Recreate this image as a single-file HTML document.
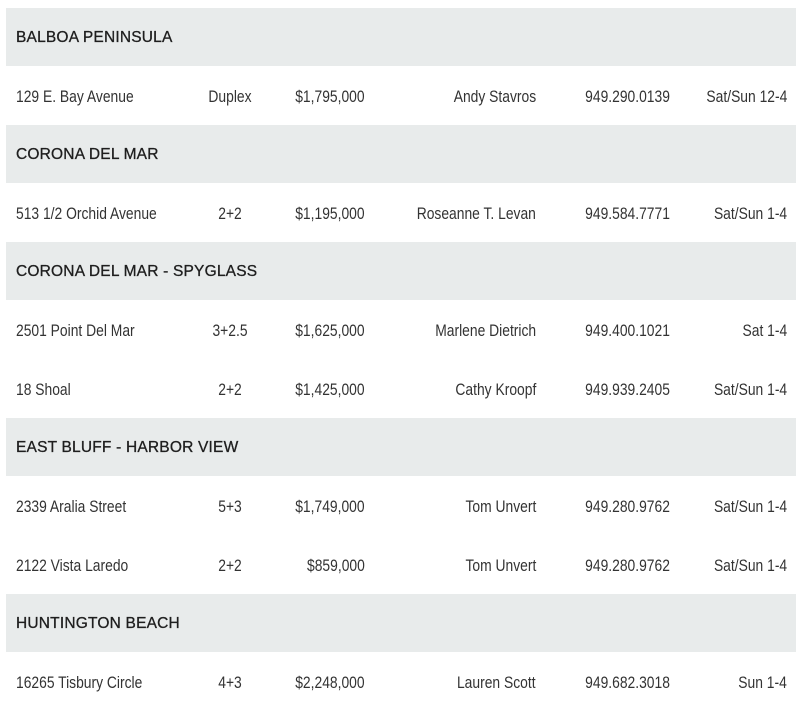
<!DOCTYPE html>
<html><head><style>
body{margin:0;width:800px;height:718px;background:#fff;position:relative;overflow:hidden;font-family:"Liberation Sans",sans-serif;}
.h{position:absolute;left:6px;width:790px;height:58px;background:#e8ebeb;}
.h span{position:absolute;left:10px;top:21px;font-size:15.5px;color:#1e1e1e;letter-spacing:0.2px;-webkit-text-stroke:0.3px #1e1e1e;}
.r{position:absolute;left:0;width:800px;height:58px;font-size:16.5px;color:#333;}
.r span{position:absolute;top:21px;white-space:nowrap;transform:scaleX(0.84);}
.a{left:16px;transform-origin:left}.t{left:180px;width:100px;text-align:center;transform-origin:center}.p{right:435px;transform-origin:right}.n{right:264px;transform-origin:right}.ph{right:130px;transform-origin:right}.tm{right:13px;transform-origin:right}
</style></head><body>
<div class="h" style="top:8px"><span>BALBOA PENINSULA</span></div>
<div class="r" style="top:67px"><span class="a">129 E. Bay Avenue</span><span class="t">Duplex</span><span class="p">$1,795,000</span><span class="n">Andy Stavros</span><span class="ph">949.290.0139</span><span class="tm">Sat/Sun 12-4</span></div>
<div class="h" style="top:125px"><span>CORONA DEL MAR</span></div>
<div class="r" style="top:184px"><span class="a">513 1/2 Orchid Avenue</span><span class="t">2+2</span><span class="p">$1,195,000</span><span class="n">Roseanne T. Levan</span><span class="ph">949.584.7771</span><span class="tm">Sat/Sun 1-4</span></div>
<div class="h" style="top:242px"><span>CORONA DEL MAR - SPYGLASS</span></div>
<div class="r" style="top:301px"><span class="a">2501 Point Del Mar</span><span class="t">3+2.5</span><span class="p">$1,625,000</span><span class="n">Marlene Dietrich</span><span class="ph">949.400.1021</span><span class="tm">Sat 1-4</span></div>
<div class="r" style="top:360px"><span class="a">18 Shoal</span><span class="t">2+2</span><span class="p">$1,425,000</span><span class="n">Cathy Kroopf</span><span class="ph">949.939.2405</span><span class="tm">Sat/Sun 1-4</span></div>
<div class="h" style="top:418px"><span>EAST BLUFF - HARBOR VIEW</span></div>
<div class="r" style="top:477px"><span class="a">2339 Aralia Street</span><span class="t">5+3</span><span class="p">$1,749,000</span><span class="n">Tom Unvert</span><span class="ph">949.280.9762</span><span class="tm">Sat/Sun 1-4</span></div>
<div class="r" style="top:536px"><span class="a">2122 Vista Laredo</span><span class="t">2+2</span><span class="p">$859,000</span><span class="n">Tom Unvert</span><span class="ph">949.280.9762</span><span class="tm">Sat/Sun 1-4</span></div>
<div class="h" style="top:594px"><span>HUNTINGTON BEACH</span></div>
<div class="r" style="top:653px"><span class="a">16265 Tisbury Circle</span><span class="t">4+3</span><span class="p">$2,248,000</span><span class="n">Lauren Scott</span><span class="ph">949.682.3018</span><span class="tm">Sun 1-4</span></div>
</body></html>
